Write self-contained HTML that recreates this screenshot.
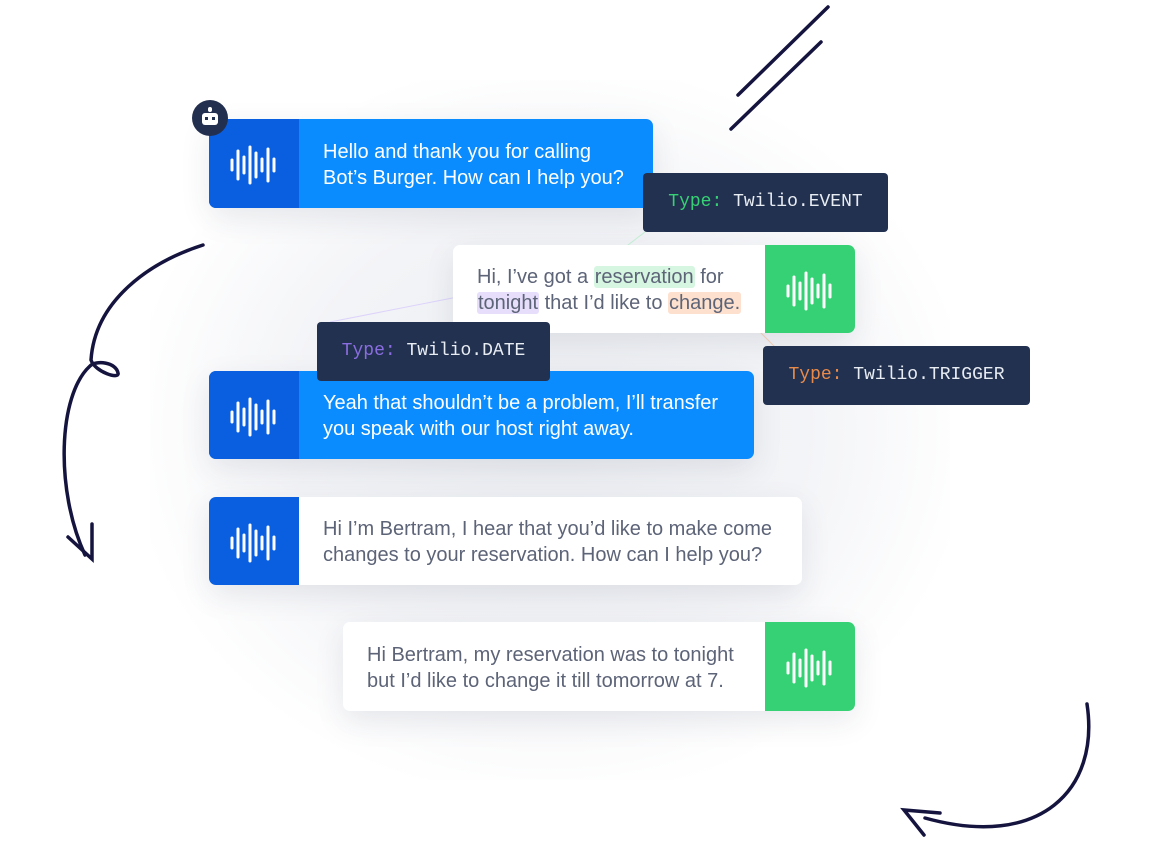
<!DOCTYPE html>
<html><head><meta charset="utf-8"><style>
body{margin:0;width:1152px;height:848px;background:#fff;position:relative;overflow:hidden;font-family:"Liberation Sans",sans-serif}
.bg{position:absolute;left:150px;top:80px;width:800px;height:700px;background:radial-gradient(ellipse at center,#eceef2 0%,#f3f4f7 45%,rgba(255,255,255,0) 75%)}
.box{position:absolute;border-radius:7px;overflow:hidden;box-shadow:0 10px 30px rgba(40,50,80,.10)}
.ic{position:absolute;top:0;bottom:0;width:90px}
.ic svg{position:absolute;left:21px;top:24px}
.tx{position:absolute;font-size:20px;line-height:26px;letter-spacing:0}
.tag{position:absolute;background:#22314f;border-radius:4px;color:#e8ecf3;font-family:"Liberation Mono",monospace;font-size:18px;line-height:59px;text-align:center}
.hl{border-radius:3px;padding:0 1px}
</style></head><body>
<div class="bg"></div>
<svg width="0" height="0" style="position:absolute"><defs><g id="w" stroke="#fff" stroke-width="3" stroke-linecap="round">
<line x1="2" y1="17" x2="2" y2="27"/><line x1="8" y1="8" x2="8" y2="36"/><line x1="14" y1="14" x2="14" y2="30"/><line x1="20" y1="4" x2="20" y2="40"/><line x1="26" y1="10" x2="26" y2="34"/><line x1="32" y1="16" x2="32" y2="28"/><line x1="38" y1="6" x2="38" y2="38"/><line x1="44" y1="16" x2="44" y2="28"/></g></defs></svg>

<svg style="position:absolute;left:0;top:0" width="1152" height="848">
<line x1="598" y1="268" x2="645" y2="232" stroke="#c6f2d6" stroke-width="1"/>
<line x1="478" y1="293" x2="330" y2="322" stroke="#ddd3fb" stroke-width="1"/>
<line x1="740" y1="312" x2="775" y2="347" stroke="#f8d3bc" stroke-width="1"/>
</svg>

<div class="box" style="left:209px;top:119px;width:444px;height:89px;background:#0a8cff">
 <div class="ic" style="left:0;background:#0a5fe0"><svg width="48" height="44"><use href="#w"/></svg></div>
 <div class="tx" style="left:114px;top:20px;color:#fff">Hello and thank you for calling<br>Bot’s Burger. How can I help you?</div>
</div>
<div style="position:absolute;left:192px;top:100px;width:36px;height:36px;border-radius:50%;background:#232f4e">
 <div style="position:absolute;left:10px;top:13px;width:16px;height:12px;background:#fff;border-radius:3px"></div>
 <div style="position:absolute;left:16px;top:7px;width:4px;height:5px;background:#fff;border-radius:2px"></div>
 <div style="position:absolute;left:13px;top:17px;width:3px;height:3px;background:#232f4e"></div>
 <div style="position:absolute;left:20px;top:17px;width:3px;height:3px;background:#232f4e"></div>
</div>

<div class="box" style="left:453px;top:245px;width:402px;height:88px;background:#fff">
 <div class="ic" style="left:312px;background:#36d174"><svg width="48" height="44"><use href="#w"/></svg></div>
 <div class="tx" style="left:24px;top:19px;color:#5d6478">Hi, I’ve got a <span class="hl" style="background:#d6f6e1">reservation</span> for<br><span class="hl" style="background:#e6defb">tonight</span> that I’d like to <span class="hl" style="background:#fde0cd">change.</span></div>
</div>

<div class="box" style="left:209px;top:371px;width:545px;height:88px;background:#0a8cff">
 <div class="ic" style="left:0;background:#0a5fe0"><svg width="48" height="44"><use href="#w"/></svg></div>
 <div class="tx" style="left:114px;top:19px;color:#fff">Yeah that shouldn’t be a problem, I’ll transfer<br>you speak with our host right away.</div>
</div>

<div class="box" style="left:209px;top:497px;width:593px;height:88px;background:#fff">
 <div class="ic" style="left:0;background:#0a5fe0"><svg width="48" height="44"><use href="#w"/></svg></div>
 <div class="tx" style="left:114px;top:19px;color:#5d6478">Hi I’m Bertram, I hear that you’d like to make come<br>changes to your reservation. How can I help you?</div>
</div>

<div class="box" style="left:343px;top:622px;width:512px;height:89px;background:#fff">
 <div class="ic" style="left:422px;background:#36d174"><svg width="48" height="44"><use href="#w"/></svg></div>
 <div class="tx" style="left:24px;top:20px;color:#5d6478">Hi Bertram, my reservation was to tonight<br>but I’d like to change it till tomorrow at 7.</div>
</div>

<div class="tag" style="left:643px;top:173px;width:245px"><span style="color:#36d174">Type:</span> Twilio.EVENT</div>
<div class="tag" style="left:317px;top:322px;width:233px"><span style="color:#8a6de0">Type:</span> Twilio.DATE</div>
<div class="tag" style="left:763px;top:346px;width:267px"><span style="color:#e88a4a">Type:</span> Twilio.TRIGGER</div>

<svg style="position:absolute;left:0;top:0" width="1152" height="848" fill="none" stroke="#14143f" stroke-width="3.5" stroke-linecap="round">
<line x1="738" y1="95" x2="828" y2="7"/>
<line x1="731" y1="129" x2="821" y2="42"/>
<path d="M203 245 C150 262 95 300 91 360 C95 372 120 380 118 373 C116 362 96 360 90 366 C58 395 55 490 85 555"/>
<path d="M68 537 L92 559 L92 524"/>
<path d="M1087 704 C1100 790 1040 850 925 818"/>
<path d="M940 813 L904 810 L924 835"/>
</svg>
</body></html>
